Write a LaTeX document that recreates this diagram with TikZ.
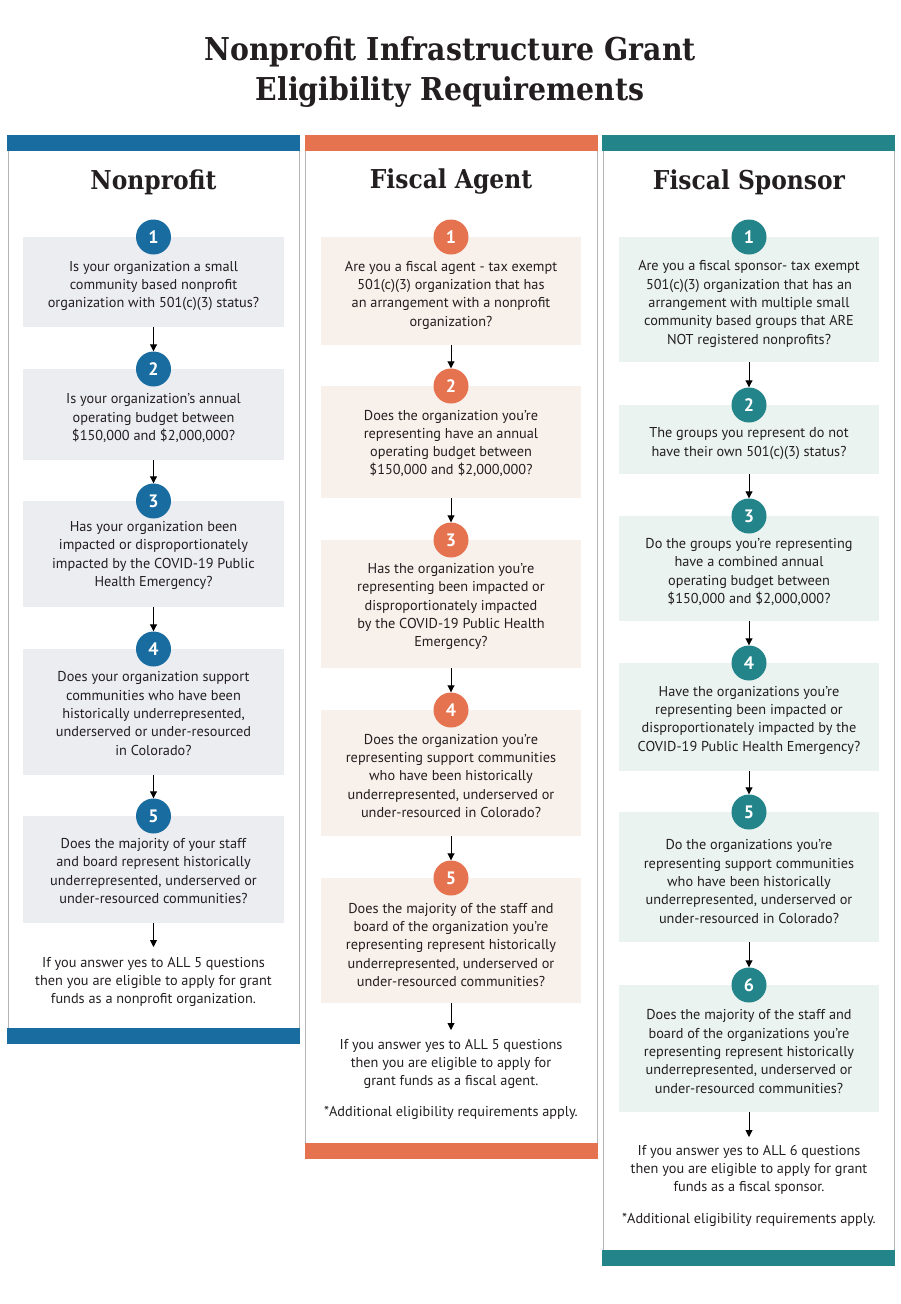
\documentclass[tikz,border=0pt]{standalone}
\usepackage{fontspec}
\setmainfont{PT Sans}
\newfontfamily\slab{DejaVu Serif Condensed}
\usetikzlibrary{arrows.meta}
\definecolor{cblue}{RGB}{24,108,160}
\definecolor{corange}{RGB}{230,115,79}
\definecolor{cteal}{RGB}{35,132,138}
\definecolor{fblue}{RGB}{236,237,241}
\definecolor{forange}{RGB}{248,240,234}
\definecolor{fteal}{RGB}{234,243,240}
\definecolor{frame}{RGB}{180,180,180}
\definecolor{ink}{RGB}{35,31,32}
\tikzset{
  colframe/.style={draw=frame, line width=0.8pt},
  bar/.style={fill=#1, draw=none},
  qbox/.style={fill=#1, draw=none, inner sep=0pt, minimum width=260},
  qtext/.style={align=center, text=ink, inner sep=0pt, font=\fontsize{14.3}{18.3}\selectfont},
  num/.style={circle, fill=#1, minimum size=35, inner sep=0pt, text=white, font=\bfseries\fontsize{18}{18}\selectfont},
  arr/.style={draw=black, line width=0.9pt, -{Triangle[width=7pt,length=7pt]}},
  head/.style={text=ink, inner sep=0pt, font=\slab\bfseries\fontsize{26}{28}\selectfont},
}
\begin{document}
\begin{tikzpicture}[x=1pt,y=1pt]
\useasboundingbox (0,0) rectangle (900,-1304);
% title
\node[text=ink, align=center, inner sep=0pt, font=\slab\bfseries\fontsize{31.5}{40}\selectfont] (title) at (450,-72) {Nonprofit Infrastructure Grant\\Eligibility Requirements};

% ---------- Column 1 ----------
\draw[colframe] (8,-143) rectangle (299,-1036);
\fill[bar=cblue] (7,-135) rectangle (300,-151);
\fill[bar=cblue] (7,-1028) rectangle (300,-1044);
\node[head] (h1) at (153.5,-182) {Nonprofit};

\node[qbox=fblue, minimum width=261, minimum height=90] (b11) at (153.5,-282) {};
\node[qbox=fblue, minimum width=261, minimum height=91] (b12) at (153.5,-414.5) {};
\node[qbox=fblue, minimum width=261, minimum height=106] (b13) at (153.5,-554) {};
\node[qbox=fblue, minimum width=261, minimum height=126] (b14) at (153.5,-712) {};
\node[qbox=fblue, minimum width=261, minimum height=107] (b15) at (153.5,-869.5) {};

\node[qtext] (t11) at (153.5,-286) {Is your organization a small\\community based nonprofit\\organization with 501(c)(3) status?};
\node[qtext] (t12) at (153.5,-418) {Is your organization’s annual\\operating budget between\\\$150,000 and \$2,000,000?};
\node[qtext] (t13) at (153.5,-555.5) {Has your organization been\\impacted or disproportionately\\impacted by the COVID-19 Public\\Health Emergency?};
\node[qtext] (t14) at (153.5,-713.5) {Does your organization support\\communities who have been\\historically underrepresented,\\underserved or under-resourced\\in Colorado?};
\node[qtext] (t15) at (153.5,-871) {Does the majority of your staff\\and board represent historically\\underrepresented, underserved or\\under-resourced communities?};
\node[qtext] (t16) at (153.5,-982) {If you answer yes to ALL 5 questions\\then you are eligible to apply for grant\\funds as a nonprofit organization.};

\node[num=cblue] (c11) at (153.5,-237) {1};
\node[num=cblue] (c12) at (153.5,-369) {2};
\node[num=cblue] (c13) at (153.5,-501) {3};
\node[num=cblue] (c14) at (153.5,-649) {4};
\node[num=cblue] (c15) at (153.5,-816) {5};
\coordinate (e1) at (153.5,-947);
\draw[arr] (b11.south) -- (c12.north);
\draw[arr] (b12.south) -- (c13.north);
\draw[arr] (b13.south) -- (c14.north);
\draw[arr] (b14.south) -- (c15.north);
\draw[arr] (b15.south) -- (e1);

% ---------- Column 2 ----------
\draw[colframe] (305.5,-143) rectangle (597,-1151);
\fill[bar=corange] (305,-135) rectangle (598,-151);
\fill[bar=corange] (305,-1143) rectangle (598,-1159);
\node[head] (h2) at (451,-182) {Fiscal Agent};

\node[qbox=forange, minimum height=108] (b21) at (451,-291) {};
\node[qbox=forange, minimum height=112] (b22) at (451,-442) {};
\node[qbox=forange, minimum height=128] (b23) at (451,-604) {};
\node[qbox=forange, minimum height=126] (b24) at (451,-773) {};
\node[qbox=forange, minimum height=125] (b25) at (451,-940.5) {};

\node[qtext] (t21) at (451,-295) {Are you a fiscal agent - tax exempt\\501(c)(3) organization that has\\an arrangement with a nonprofit\\organization?};
\node[qtext] (t22) at (451,-443.5) {Does the organization you’re\\representing have an annual\\operating budget between\\\$150,000 and \$2,000,000?};
\node[qtext] (t23) at (451,-606.5) {Has the organization you’re\\representing been impacted or\\disproportionately impacted\\by the COVID-19 Public Health\\Emergency?};
\node[qtext] (t24) at (451,-776) {Does the organization you’re\\representing support communities\\who have been historically\\underrepresented, underserved or\\under-resourced in Colorado?};
\node[qtext] (t25) at (451,-945) {Does the majority of the staff and\\board of the organization you’re\\representing represent historically\\underrepresented, underserved or\\under-resourced communities?};
\node[qtext] (t26) at (451,-1064) {If you answer yes to ALL 5 questions\\then you are eligible to apply for\\grant funds as a fiscal agent.};
\node[qtext] (t27) at (451,-1113) {*Additional eligibility requirements apply.};

\node[num=corange] (c21) at (451,-237) {1};
\node[num=corange] (c22) at (451,-386) {2};
\node[num=corange] (c23) at (451,-540) {3};
\node[num=corange] (c24) at (451,-710) {4};
\node[num=corange] (c25) at (451,-878) {5};
\coordinate (e2) at (451,-1030);
\draw[arr] (b21.south) -- (c22.north);
\draw[arr] (b22.south) -- (c23.north);
\draw[arr] (b23.south) -- (c24.north);
\draw[arr] (b24.south) -- (c25.north);
\draw[arr] (b25.south) -- (e2);

% ---------- Column 3 ----------
\draw[colframe] (603,-143) rectangle (894,-1258);
\fill[bar=cteal] (602,-135) rectangle (895,-151);
\fill[bar=cteal] (602,-1250) rectangle (895,-1266);
\node[head] (h3) at (749,-182) {Fiscal Sponsor};

\node[qbox=fteal, minimum height=125] (b31) at (749,-299.5) {};
\node[qbox=fteal, minimum height=69] (b32) at (749,-439.5) {};
\node[qbox=fteal, minimum height=105] (b33) at (749,-568.5) {};
\node[qbox=fteal, minimum height=108] (b34) at (749,-717) {};
\node[qbox=fteal, minimum height=130] (b35) at (749,-877) {};
\node[qbox=fteal, minimum height=127] (b36) at (749,-1048.5) {};

\node[qtext] (t31) at (749,-304) {Are you a fiscal sponsor- tax exempt\\501(c)(3) organization that has an\\arrangement with multiple small\\community based groups that ARE\\NOT registered nonprofits?};
\node[qtext] (t32) at (749,-443.5) {The groups you represent do not\\have their own 501(c)(3) status?};
\node[qtext] (t33) at (749,-572) {Do the groups you’re representing\\have a combined annual\\operating budget between\\\$150,000 and \$2,000,000?};
\node[qtext] (t34) at (749,-720) {Have the organizations you’re\\representing been impacted or\\disproportionately impacted by the\\COVID-19 Public Health Emergency?};
\node[qtext] (t35) at (749,-881.5) {Do the organizations you’re\\representing support communities\\who have been historically\\underrepresented, underserved or\\under-resourced in Colorado?};
\node[qtext] (t36) at (749,-1051.5) {Does the majority of the staff and\\board of the organizations you’re\\representing represent historically\\underrepresented, underserved or\\under-resourced communities?};
\node[qtext] (t37) at (749,-1170) {If you answer yes to ALL 6 questions\\then you are eligible to apply for grant\\funds as a fiscal sponsor.};
\node[qtext] (t38) at (749,-1220) {*Additional eligibility requirements apply.};

\node[num=cteal] (c31) at (749,-237) {1};
\node[num=cteal] (c32) at (749,-405) {2};
\node[num=cteal] (c33) at (749,-516) {3};
\node[num=cteal] (c34) at (749,-663) {4};
\node[num=cteal] (c35) at (749,-812) {5};
\node[num=cteal] (c36) at (749,-985) {6};
\coordinate (e3) at (749,-1137);
\draw[arr] (b31.south) -- (c32.north);
\draw[arr] (b32.south) -- (c33.north);
\draw[arr] (b33.south) -- (c34.north);
\draw[arr] (b34.south) -- (c35.north);
\draw[arr] (b35.south) -- (c36.north);
\draw[arr] (b36.south) -- (e3);
\end{tikzpicture}
\end{document}
